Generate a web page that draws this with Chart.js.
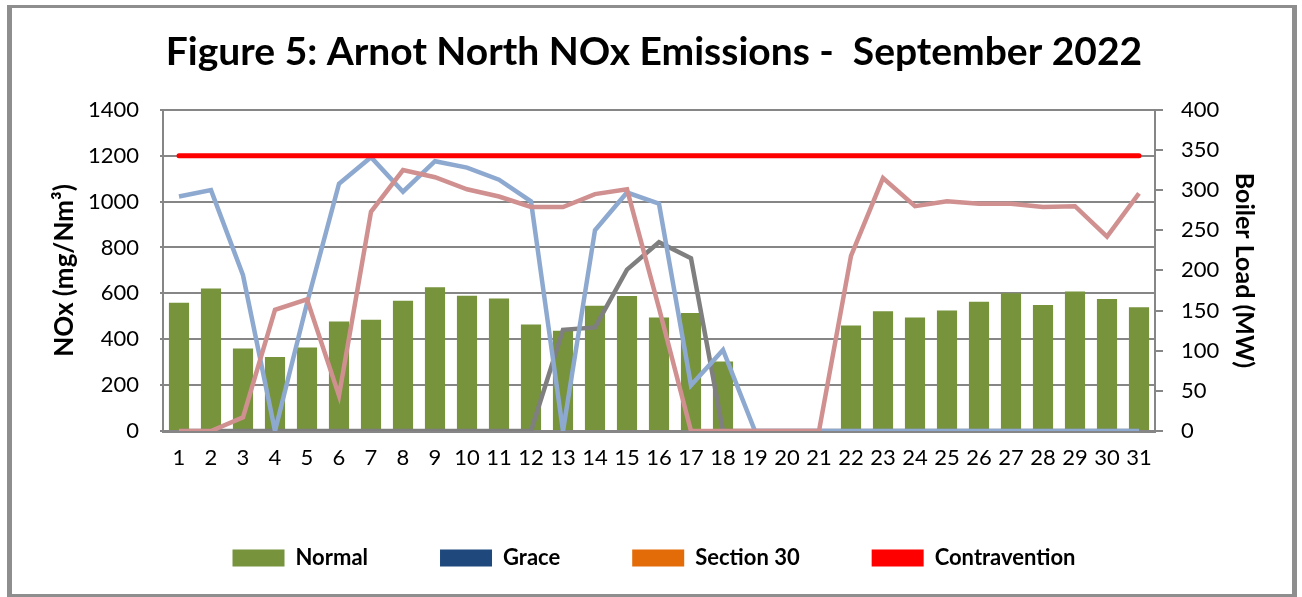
<!DOCTYPE html>
<html>
<head>
<meta charset="utf-8">
<script src="https://cdn.jsdelivr.net/npm/chart.js@4"></script>
<style>
  html, body { margin: 0; padding: 0; background: #fff; }
  #wrap { width: 1302px; height: 597px; }
</style>
</head>
<body>
<div id="wrap"><canvas id="noxChart" width="1302" height="597"></canvas></div>
<script>
// days of September 2022
const days = [];
for (let d = 1; d <= 31; d++) days.push(String(d));

// NOx emissions (mg/Nm3), left axis
const normal = [559, 621, 360, 322, 364, 477, 485, 568, 627, 590, 578, 464, 437, 546, 588, 495,
                514, 303, null, null, null, 460, 522, 495, 525, 563, 600, 549, 608, 575, 539];
const grace = [0, 0, 0, 0, 0, 0, 0, 0, 0, 0, 0, 0, 0, 0, 0, 0, 0, 0, 0, 0, 0, 0, 0, 0, 0, 0, 0, 0, 0, 0, 0];
const section30 = [0, 0, 0, 0, 0, 0, 0, 0, 0, 0, 0, 0, 0, 0, 0, 0, 0, 0, 0, 0, 0, 0, 0, 0, 0, 0, 0, 0, 0, 0, 0];
const contravention = [1200, 1200, 1200, 1200, 1200, 1200, 1200, 1200, 1200, 1200, 1200, 1200, 1200, 1200, 1200, 1200,
                       1200, 1200, 1200, 1200, 1200, 1200, 1200, 1200, 1200, 1200, 1200, 1200, 1200, 1200, 1200];

// boiler loads (MW), right axis
const loadGrey = [0, 0, 0, 0, 0, 0, 0, 0, 0, 0, 0, 0, 126, 129, 201, 235, 215, 0, 0, 0, 0, 0, 0, 0, 0, 0, 0, 0, 0, 0, 0];
const loadBlue = [292, 300, 194, 0, 159, 308, 341, 298, 336, 328, 313, 286, 0, 250, 297, 283, 57, 101, 0, 0, 0,
                  0, 0, 0, 0, 0, 0, 0, 0, 0, 0];
const loadPink = [0, 0, 17, 151, 164, 44, 273, 325, 316, 301, 292, 279, 279, 295, 301, 153, 0, 0, 0, 0, 0,
                  218, 315, 280, 286, 283, 283, 279, 280, 242, 296];

const gridGrey = '#868686';

const frame = {
    id: 'frame',
    afterDraw(chart) {
        const ctx = chart.ctx;
        ctx.save();
        ctx.fillStyle = '#8e8e8e';
        ctx.fillRect(7, 5, 5, 592);
        ctx.fillRect(7, 5, 1290, 3);
        ctx.fillRect(1292, 5, 5, 592);
        ctx.fillRect(7, 594, 1290, 3);
        ctx.restore();
    }
};

function unitLine(label, values, color, order) {
    return {
        type: 'line',
        label: label,
        data: values,
        yAxisID: 'y1',
        borderColor: color,
        backgroundColor: color,
        borderWidth: 4.5,
        pointRadius: 0,
        tension: 0,
        order: order
    };
}

new Chart(document.getElementById('noxChart'), {
    type: 'bar',
    data: {
        labels: days,
        datasets: [
            { label: 'Normal', data: normal, backgroundColor: '#77933C', grouped: false, yAxisID: 'y', order: 10,
              categoryPercentage: 1, barPercentage: 0.63 },
            { label: 'Grace', data: grace, backgroundColor: '#1F497D', grouped: false, yAxisID: 'y', order: 10,
              categoryPercentage: 1, barPercentage: 0.63 },
            { label: 'Section 30', data: section30, backgroundColor: '#E36C09', grouped: false, yAxisID: 'y', order: 10,
              categoryPercentage: 1, barPercentage: 0.63 },
            { type: 'line', label: 'Contravention', data: contravention, yAxisID: 'y',
              borderColor: '#FF0000', backgroundColor: '#FF0000', borderWidth: 5, pointRadius: 0,
              borderCapStyle: 'round', order: 0 },
            unitLine('Unit 1', loadGrey, '#7F7F7F', 5),
            unitLine('Unit 2', loadBlue, '#8EA9D0', 4),
            unitLine('Unit 3', loadPink, '#D09090', 3)
        ]
    },
    options: {
        responsive: false,
        animation: false,
        layout: { padding: { left: 45, right: 39, top: 0, bottom: 18 } },
        plugins: {
            title: {
                display: true,
                text: 'Figure 5: Arnot North NOx Emissions -  September 2022',
                color: '#000',
                font: { family: 'Lato', size: 39, weight: 'bold' },
                padding: { top: 29, bottom: 34 }
            },
            legend: {
                position: 'bottom',
                labels: {
                    color: '#000',
                    font: { family: 'Lato', size: 22, weight: 'bold' },
                    boxWidth: 52,
                    boxHeight: 17,
                    padding: 72,
                    sort: (a, b) => a.datasetIndex - b.datasetIndex,
                    generateLabels: c => Chart.defaults.plugins.legend.labels.generateLabels(c)
                        .filter(l => l.datasetIndex < 4)
                        .map(l => Object.assign(l, { lineWidth: 0 }))
                }
            },
            tooltip: { enabled: false }
        },
        scales: {
            x: {
                offset: true,
                afterFit: s => { s.height = 44; },
                grid: { display: false, drawTicks: false },
                border: { color: gridGrey, width: 3 },
                ticks: { color: '#000', font: { family: 'Lato', size: 22 }, padding: 14, maxRotation: 0, autoSkip: false }
            },
            y: {
                position: 'left',
                min: 0,
                max: 1400,
                afterFit: s => { s.width = 118; },
                ticks: { stepSize: 200, color: '#000', font: { family: 'Lato', size: 22 }, padding: 21,
                         callback: v => String(v) },
                grid: { color: gridGrey, lineWidth: 2, tickLength: 3 },
                border: { color: gridGrey, width: 2 },
                title: { display: true, text: 'NOx (mg/Nm³)', color: '#000', font: { family: 'Lato', size: 26, weight: 'bold' } }
            },
            y1: {
                position: 'right',
                min: 0,
                max: 400,
                afterFit: s => { s.width = 108; },
                ticks: { stepSize: 50, color: '#000', font: { family: 'Lato', size: 22 }, padding: 18 },
                grid: { drawOnChartArea: false, color: gridGrey, lineWidth: 2, tickLength: 8 },
                border: { color: gridGrey, width: 2 },
                title: { display: true, text: 'Boiler Load (MW)', color: '#000', font: { family: 'Lato', size: 25, weight: 'bold' } }
            }
        }
    },
    plugins: [frame]
});
</script>
</body>
</html>
